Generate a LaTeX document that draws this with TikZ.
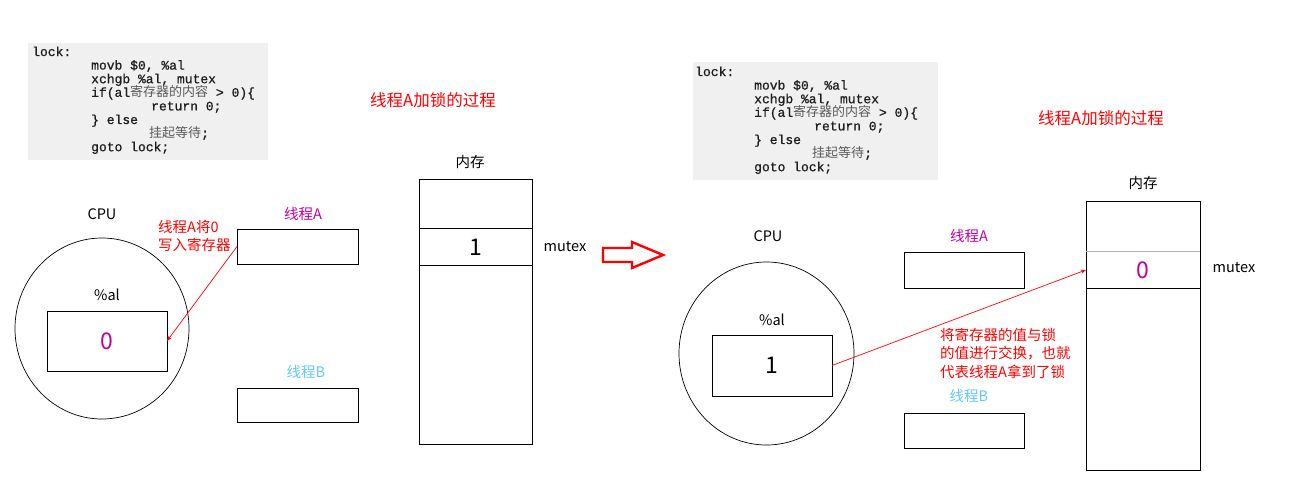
\documentclass[tikz,border=0pt]{standalone}
\usepackage{fontspec}
\setmainfont{Noto Sans CJK SC}
\newfontfamily\codefont{Liberation Mono}[FakeBold=0.8]
\newfontfamily\cjk{Noto Sans CJK SC}
\usetikzlibrary{shapes.geometric,arrows.meta}
\definecolor{codebg}{RGB}{240,240,240}
\definecolor{magA}{RGB}{190,0,160}
\definecolor{blueB}{RGB}{100,200,250}
\definecolor{codefg}{RGB}{30,30,30}
\definecolor{codecjk}{RGB}{90,90,90}
\tikzset{
  box/.style={draw=black, line width=0.9pt, inner sep=0, outer sep=0},
  lbl/.style={inner sep=0, font=\fontsize{14.5}{17}\selectfont},
  code/.style={anchor=base west, inner sep=0, text=codefg, font=\codefont\fontsize{13}{14}\selectfont},
  redtxt/.style={text=red, align=left, inner sep=0, font=\fontsize{14.5}{18.5}\selectfont},
  link/.style={draw=red, line width=0.7pt, -{Stealth[length=5pt,width=4pt]}},
  big/.style={inner sep=0, font=\fontsize{23}{26}\selectfont},
  cpu/.style={draw=black, ellipse, line width=0.7pt, inner sep=0},
  title/.style={inner sep=0, text=red, font=\fontsize{16.5}{19}\selectfont},
}
\newcommand\codeblock[3]{%
  \node[code] (#1l1) at (#2, #3) {lock:};
  \node[code] (#1l2) at (#2+59, #3+13.6) {movb \$0, \%al};
  \node[code] (#1l3) at (#2+59, #3+27.2) {xchgb \%al, mutex};
  \node[code] (#1l4) at (#2+59, #3+40.8) {if(al{\cjk\color{codecjk}寄存器的内容} > 0)\{};
  \node[code] (#1l5) at (#2+119, #3+54.4) {return 0;};
  \node[code] (#1l6) at (#2+59, #3+68) {\} else};
  \node[code] (#1l7) at (#2+117, #3+81.6) {{\cjk\color{codecjk}挂起等待};};
  \node[code] (#1l8) at (#2+59, #3+95.2) {goto lock;};
}
\begin{document}
\begin{tikzpicture}[x=1pt,y=-1pt]
\useasboundingbox[fill=white] (0,0) rectangle (1290,480);

% ---------- left panel ----------
\fill[codebg] (28,43) rectangle (268,160);
\codeblock{L}{32}{56}
\node[title] (titleL) at (433,100) {线程A加锁的过程};

\node[lbl] (memLt) at (470,162) {内存};
\node[box, minimum width=113, minimum height=265] (memL) at (475.5,311.5) {};
\node[big, minimum width=113, minimum height=36] (cellL) at (475.5,247) {1};
\draw[line width=0.9pt] (cellL.north west) -- (cellL.north east)
                        (cellL.south west) -- (cellL.south east);
\node[lbl] (mutexL) at (565,247) {mutex};

\node[lbl] (cpuLt) at (102,214) {CPU};
\node[cpu, minimum width=174, minimum height=181] (cpuL) at (102,328.5) {};
\node[lbl] (alL) at (107,295) {\%al};
\node[box, big, text=magA, minimum width=120, minimum height=60] (regL) at (107,341) {0};

\node[lbl, text=magA] (thALt) at (303,214) {线程A};
\node[box, minimum width=121, minimum height=35] (thAL) at (297.5,246.5) {};
\node[lbl, text=blueB] (thBLt) at (306,372) {线程B};
\node[box, minimum width=121, minimum height=34] (thBL) at (297.5,405) {};

\node[redtxt, anchor=west] (noteL) at (158,236) {线程A将0\\写入寄存器};
\draw[link] (thAL.west) -- (regL.east);

% ---------- hollow arrow ----------
\draw[red, line width=2.4pt, line join=miter]
  (603,248) -- (632,248) -- (632,242) -- (663,255) -- (632,268) -- (632,262) -- (603,262) -- cycle;

% ---------- right panel ----------
\fill[codebg] (693,62) rectangle (938,180);
\codeblock{R}{695}{76}
\node[title] (titleR) at (1101,118) {线程A加锁的过程};

\node[lbl] (memRt) at (1143,183) {内存};
\node[box, minimum width=114, minimum height=269] (memR) at (1143,335.5) {};
\node[big, text=magA, minimum width=114, minimum height=36] (cellR) at (1143,270) {0};
\draw[gray!60, line width=0.8pt] (cellR.north west) -- (cellR.north east);
\draw[line width=0.9pt] (cellR.south west) -- (cellR.south east);
\node[lbl] (mutexR) at (1234,268) {mutex};

\node[lbl] (cpuRt) at (768,236) {CPU};
\node[cpu, minimum width=175, minimum height=183] (cpuR) at (766.5,353.5) {};
\node[lbl] (alR) at (772,320) {\%al};
\node[box, big, minimum width=120, minimum height=61] (regR) at (772,365.5) {1};

\node[lbl, text=magA] (thARt) at (969,236) {线程A};
\node[box, minimum width=120, minimum height=36] (thAR) at (964,270) {};
\node[lbl, text=blueB] (thBRt) at (969,396) {线程B};
\node[box, minimum width=120, minimum height=35] (thBR) at (964,430.5) {};

\node[redtxt, anchor=west] (noteR) at (940,353) {将寄存器的值与锁\\的值进行交换，也就\\代表线程A拿到了锁};
\draw[link] (regR.east) -- (cellR.west);
\end{tikzpicture}
\end{document}
